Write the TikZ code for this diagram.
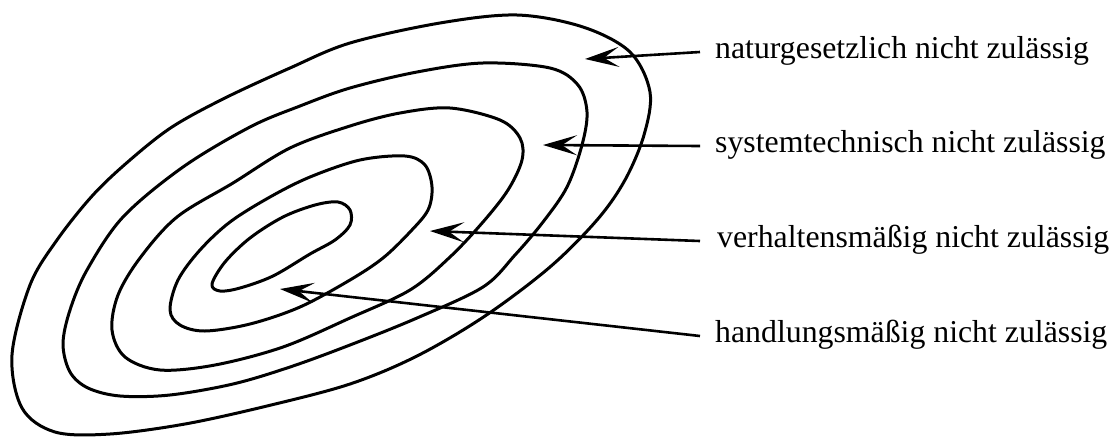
\documentclass[tikz,border=0pt]{standalone}
\usepackage{fontspec}
\setmainfont{Liberation Serif}
\usetikzlibrary{arrows.meta}
\begin{document}
\begin{tikzpicture}[x=1pt,y=-1pt,
  ring/.style={line width=3pt, line join=round},
  lbl/.style={anchor=base west, inner sep=0pt, font=\fontsize{31.8}{38}\selectfont},
  pointer/.style={line width=2.6pt, -{Stealth[length=34pt,width=20pt,inset=15pt]}}]
\useasboundingbox (0,0) rectangle (1116,437);
% outer ring
\draw[ring] plot[smooth cycle, tension=0.55] coordinates {
 (517,15) (583,27) (630,52) (650,92) (644,135) (625,180) (597,220) (550,267)
 (485,316) (417,356) (350,384) (267,406) (185,424) (110,434) (55,432) (22,408)
 (12,355) (30,285) (57,240) (93,195) (130,160) (172,127) (225,98) (290,68)
 (350,43) (440,23)};
% second ring
\draw[ring] plot[smooth cycle, tension=0.55] coordinates {
 (417,72) (483,63) (550,68) (578,85) (587,112) (582,145) (567,187) (543,222)
 (515,255) (483,287) (417,318) (350,345) (290,367) (233,384) (170,395) (120,396)
 (88,388) (70,372) (63,344) (70,310) (87,270) (123,217) (183,167) (250,127)
 (300,106) (350,88)};
% third ring
\draw[ring] plot[smooth cycle, tension=0.55] coordinates {
 (450,108) (500,120) (520,138) (522,160) (508,190) (483,222) (450,257) (410,290)
 (350,318) (283,347) (215,365) (160,370) (125,357) (112,330) (118,295) (140,258)
 (177,217) (233,183) (290,148) (350,126) (400,113)};
% fourth ring
\draw[ring] plot[smooth cycle, tension=0.55] coordinates {
 (170,310) (178,280) (200,250) (230,222) (270,197) (310,177) (360,160) (405,156)
 (425,165) (432,187) (428,210) (410,232) (383,258) (350,280) (300,307) (250,324)
 (205,331) (180,325)};
% innermost ring
\draw[ring] plot[smooth cycle, tension=0.55] coordinates {
 (212,284) (225,262) (250,238) (283,217) (315,205) (338,202) (350,210) (350,225)
 (335,240) (310,254) (273,276) (240,288) (220,291)};
% labels
\node[lbl] (l1) at (715,58) {naturgesetzlich nicht zulässig};
\node[lbl] (l2) at (715,152) {systemtechnisch nicht zulässig};
\node[lbl] (l3) at (717,247) {verhaltensmäßig nicht zulässig};
\node[lbl] (l4) at (715,342) {handlungsmäßig nicht zulässig};
% arrow tips
\coordinate (t1) at (585,59);
\coordinate (t2) at (543,145);
\coordinate (t3) at (430,231);
\coordinate (t4) at (280,289);
\draw[pointer] ([shift={(-15pt,6pt)}]l1.base west) -- (t1);
\draw[pointer] ([shift={(-15pt,6pt)}]l2.base west) -- (t2);
\draw[pointer] ([shift={(-17pt,6pt)}]l3.base west) -- (t3);
\draw[pointer] ([shift={(-15pt,6pt)}]l4.base west) -- (t4);
\end{tikzpicture}
\end{document}
